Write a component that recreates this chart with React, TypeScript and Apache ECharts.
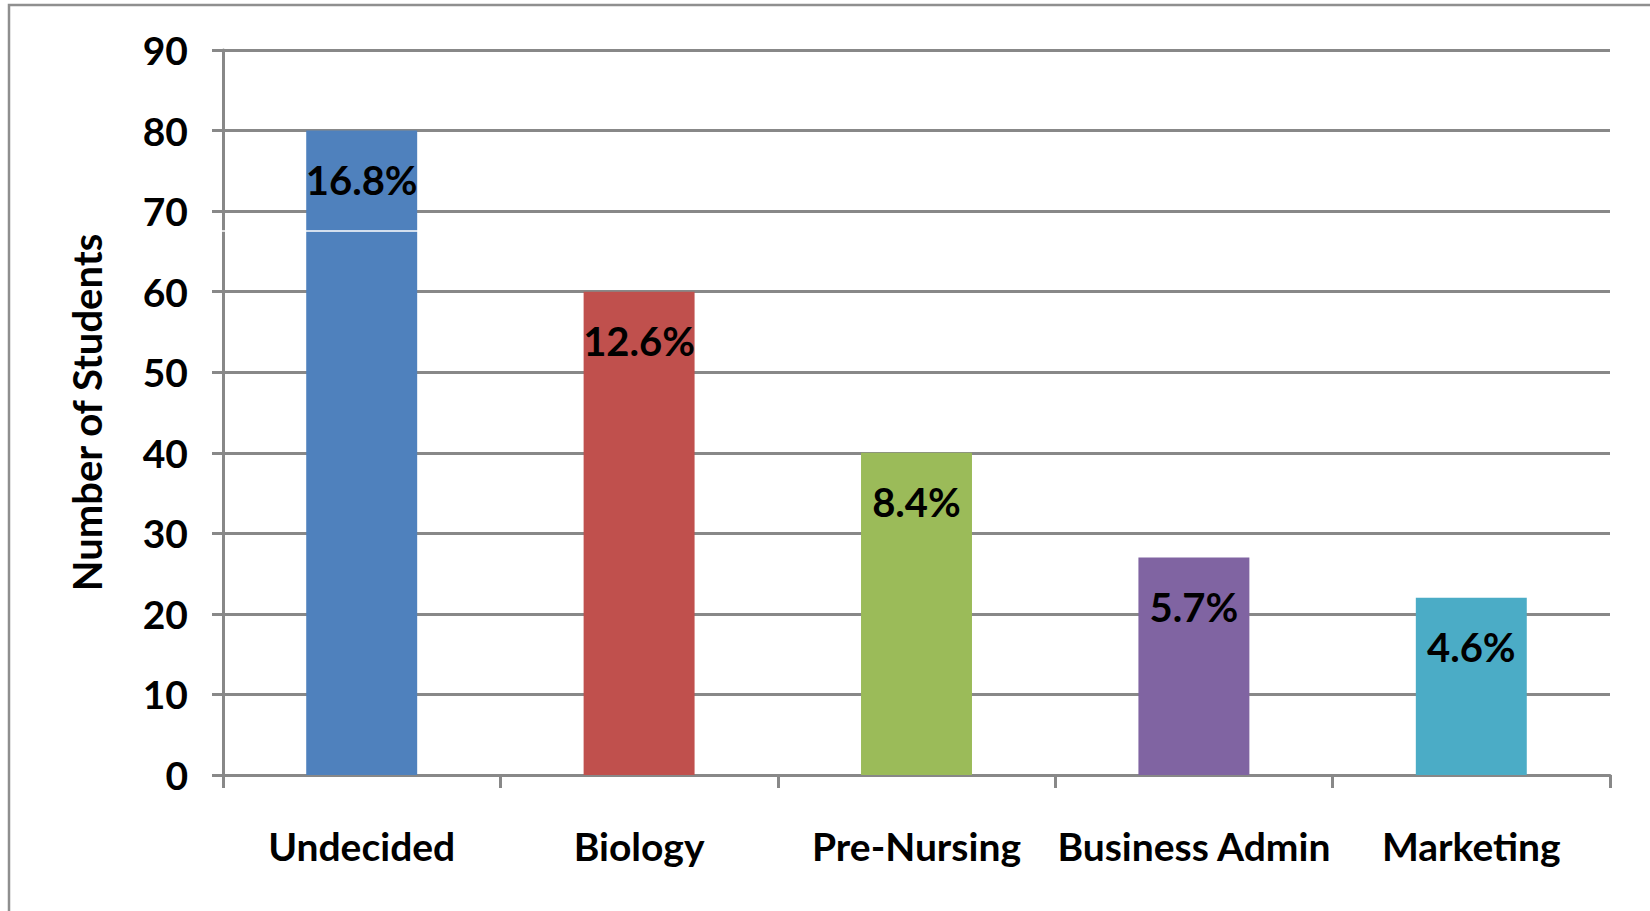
import React, { useEffect, useRef } from "react";
import * as echarts from "echarts";

const categories = ["Undecided", "Biology", "Pre-Nursing", "Business Admin", "Marketing"];
const students = [80, 60, 40, 27, 22];
const percentLabels = ["16.8%", "12.6%", "8.4%", "5.7%", "4.6%"];
const barColors = ["#4F81BD", "#C0504D", "#9BBB59", "#8064A2", "#4BACC6"];
const yTicks = { min: 0, max: 90, interval: 10 };

const FONT = "Lato";

export default function App() {
  const ref = useRef<HTMLDivElement>(null);
  useEffect(() => {
    if (!ref.current) return;
    const chart = echarts.init(ref.current, undefined, { renderer: "svg" });
    chart.setOption({
      animation: false,
      backgroundColor: "#ffffff",
      textStyle: { fontFamily: FONT },
      grid: { left: 223, top: 50, right: 40, bottom: 136, containLabel: false },
      xAxis: {
        type: "category",
        data: categories,
        boundaryGap: true,
        axisLine: { show: true, lineStyle: { color: "#888888", width: 3 } },
        axisTick: { show: true, length: 13, lineStyle: { color: "#888888", width: 3 } },
        axisLabel: {
          margin: 51,
          color: "#000",
          fontFamily: FONT,
          fontWeight: "bold",
          fontSize: 39,
          interval: 0,
        },
        splitLine: { show: false },
      },
      yAxis: {
        type: "value",
        min: yTicks.min,
        max: yTicks.max,
        interval: yTicks.interval,
        name: "Number of Students",
        nameLocation: "middle",
        nameGap: 116,
        nameRotate: 90,
        nameTextStyle: { color: "#000", fontFamily: FONT, fontWeight: "bold", fontSize: 40 },
        axisLine: { show: true, lineStyle: { color: "#888888", width: 3 } },
        axisTick: { show: true, inside: false, length: 11, lineStyle: { color: "#888888", width: 3 } },
        axisLabel: { margin: 35, color: "#000", fontFamily: FONT, fontWeight: "bold", fontSize: 39 },
        splitLine: { show: true, lineStyle: { color: "#888888", width: 3 } },
      },
      series: [
        {
          type: "bar",
          barWidth: "40%",
          data: students.map((v, i) => ({ value: v, itemStyle: { color: barColors[i] } })),
          label: {
            show: true,
            position: ["50%", 49],
            align: "center",
            verticalAlign: "middle",
            color: "#000",
            fontFamily: FONT,
            fontWeight: "bold",
            fontSize: 40,
            formatter: (p: any) => percentLabels[p.dataIndex],
          },
        },
      ],
      graphic: [
        {
          type: "rect",
          shape: { x: 9, y: 5, width: 1700, height: 1000 },
          style: { fill: "none", stroke: "#8f8f8f", lineWidth: 2.5 },
          silent: true,
          z: 100,
        },
        {
          type: "line",
          shape: { x1: 205, y1: 231, x2: 419, y2: 231 },
          style: { stroke: "#ffffff", lineWidth: 1.5 },
          silent: true,
          z: 100,
        },
      ],
    });
    return () => chart.dispose();
  }, []);
  return (
    <div
      ref={ref}
      style={{ position: "fixed", left: 0, top: 0, width: 1650, height: 911, background: "#fff" }}
    />
  );
}
